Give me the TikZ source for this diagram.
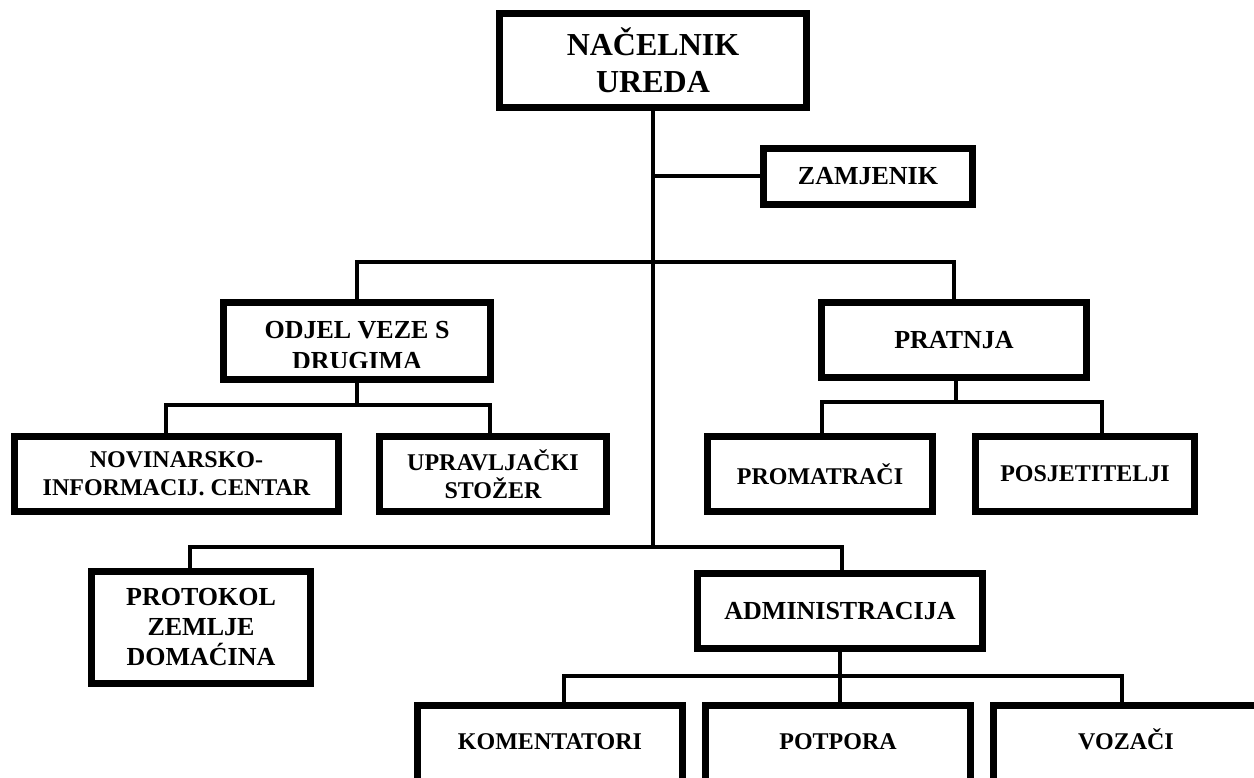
\documentclass[tikz,border=0pt]{standalone}
\usepackage{fontspec}
\setmainfont{Liberation Serif}
\tikzset{
  orgbox/.style={draw, line width=7pt, inner sep=0pt, align=center, fill=white},
  big/.style={font=\bfseries\fontsize{32}{37}\selectfont},
  mid/.style={font=\bfseries\fontsize{26}{31}\selectfont},
  small/.style={font=\bfseries\fontsize{24}{28}\selectfont},
  lbl/.style={inner sep=0pt, anchor=base},
  conn/.style={line width=4pt}
}
\begin{document}
\begin{tikzpicture}[x=1pt,y=-1pt]
\useasboundingbox (0,0) rectangle (1254,778);
\fill[white] (0,0) rectangle (1254,778);
\clip (0,0) rectangle (1254,778);

% boxes
\node[orgbox,big,minimum width=307pt,minimum height=94pt] (nac) at (653,60.5) {NAČELNIK\\UREDA};
\node[orgbox,mid,minimum width=209pt,minimum height=56pt] (zam) at (868,176.5) {ZAMJENIK};
\node[orgbox,minimum width=267pt,minimum height=77pt] (odj) at (357,341) {};
\node[orgbox,mid,minimum width=265pt,minimum height=75pt] (prat) at (954,340) {PRATNJA};
\node[orgbox,small,minimum width=324pt,minimum height=75pt] (nov) at (176.5,474) {NOVINARSKO-\\INFORMACIJ. CENTAR};
\node[orgbox,small,minimum width=227pt,minimum height=75pt] (upr) at (493,474) {UPRAVLJAČKI\\STOŽER};
\node[orgbox,small,minimum width=225pt,minimum height=75pt] (prom) at (820,474) {PROMATRAČI};
\node[orgbox,small,minimum width=219pt,minimum height=75pt] (posj) at (1085,474) {POSJETITELJI};
\node[orgbox,mid,font=\bfseries\fontsize{26}{30}\selectfont,minimum width=219pt,minimum height=112pt] (prot) at (201,627.5) {PROTOKOL\\ZEMLJE\\DOMAĆINA};
\node[orgbox,mid,minimum width=285pt,minimum height=75pt] (adm) at (840,611) {ADMINISTRACIJA};
\node[orgbox,minimum width=265pt,minimum height=151pt] (kom) at (550,781) {};
\node[orgbox,minimum width=265pt,minimum height=151pt] (pot) at (838,781) {};
\node[orgbox,minimum width=265pt,minimum height=151pt] (voz) at (1126,781) {};

% texts placed apart
\node[lbl,mid] (odjt) at (357,338) {ODJEL VEZE S};
\begin{scope}
  \clip (200,300) rectangle (500,367);
  \node[lbl,mid] (odjt2) at (357,370) {DRUGIMA};
\end{scope}
\node[lbl,small] (komt) at (550,749) {KOMENTATORI};
\node[lbl,small] (pott) at (838,749) {POTPORA};
\node[lbl,small] (vozt) at (1126,749) {VOZAČI};

% connector points
\coordinate (j0) at (653,547);
\coordinate (b1) at (0,262);
\coordinate (b2) at (0,405);
\coordinate (b3) at (0,402);
\coordinate (b4) at (0,676);
\coordinate (novd) at ([xshift=-10.5pt]nov.north);
\coordinate (uprd) at ([xshift=-3pt]upr.north);
\coordinate (pratd) at ([xshift=2pt]prat.south);
\coordinate (promd) at ([xshift=2pt]prom.north);
\coordinate (posjd) at ([xshift=17pt]posj.north);
\coordinate (protd) at ([xshift=-11pt]prot.north);
\coordinate (admd) at ([xshift=2pt]adm.north);
\coordinate (adms) at (adm.south);
\coordinate (komd) at ([xshift=14pt]kom.north);
\coordinate (vozd) at ([xshift=-4pt]voz.north);

% connectors
\draw[conn] (nac.south) -- (j0);
\draw[conn] (nac.south |- zam.west) -- (zam.west);
\draw[conn] (odj.north) |- (b1 -| prat.north) -- (prat.north);
\draw[conn] (odj.south) -- (odj.south |- b2);
\draw[conn] (novd) |- (b2 -| uprd) -- (uprd);
\draw[conn] (pratd) -- (pratd |- b3);
\draw[conn] (promd) |- (b3 -| posjd) -- (posjd);
\draw[conn] (protd) |- (j0 -| admd) -- (admd);
\draw[conn] (adms) -- (adms |- pot.north);
\draw[conn] (komd) |- (b4 -| vozd) -- (vozd);
\end{tikzpicture}
\end{document}
